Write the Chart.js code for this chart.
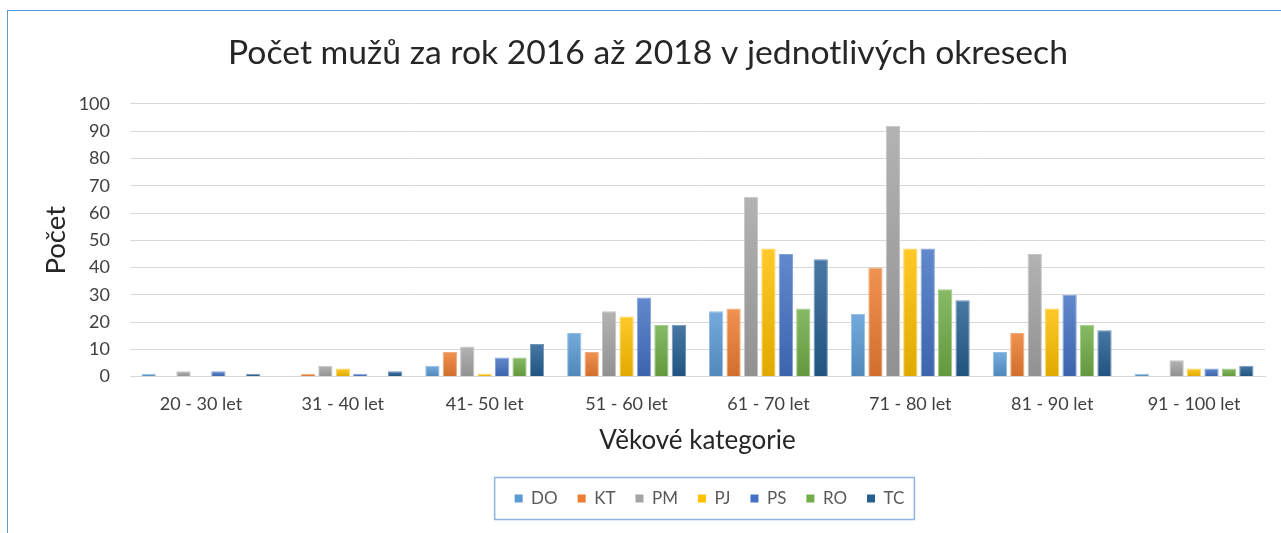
<!DOCTYPE html>
<html>
<head>
<meta charset="utf-8">
<script src="https://cdn.jsdelivr.net/npm/chart.js@4/dist/chart.umd.min.js"></script>
<style>
  html, body { margin: 0; padding: 0; background: #ffffff; overflow: hidden; }
  #wrap { position: relative; width: 1281px; height: 533px; }
  #frame { position: absolute; left: 7px; top: 10px; width: 1400px; height: 700px;
           border-left: 1.5px solid #5b9bd5; border-top: 1.5px solid #5b9bd5; pointer-events: none; }
  canvas { position: absolute; left: 0; top: 0; }
</style>
</head>
<body>
<div id="wrap">
  <canvas id="c" width="1281" height="533"></canvas>
  <div id="frame"></div>
</div>
<script>
// ---- data ----
const categories = ['20 - 30 let', '31 - 40 let', '41- 50 let', '51 - 60 let', '61 - 70 let', '71 - 80 let', '81 - 90 let', '91 - 100 let'];
const seriesNames = ['DO', 'KT', 'PM', 'PJ', 'PS', 'RO', 'TC'];
const DO = [1, 0, 4, 16, 24, 23, 9, 1];
const KT = [0, 1, 9, 9, 25, 40, 16, 0];
const PM = [2, 4, 11, 24, 66, 92, 45, 6];
const PJ = [0, 3, 1, 22, 47, 47, 25, 3];
const PS = [2, 1, 7, 29, 45, 47, 30, 3];
const RO = [0, 0, 7, 19, 25, 32, 19, 3];
const TC = [1, 2, 12, 19, 43, 28, 17, 4];
const yTicks = [0, 10, 20, 30, 40, 50, 60, 70, 80, 90, 100];
const titleText = 'Počet mužů za rok 2016 až 2018 v jednotlivých okresech';
const xTitle = 'Věkové kategorie';
const yTitle = 'Počet';

// ---- styles ----
const colors = ['#5b9bd5', '#ed7d31', '#a5a5a5', '#ffc000', '#4472c4', '#70ad47', '#255e91'];
const FONT = 'Lato, "Open Sans", sans-serif';

function shade(hex, amt) {
  const n = parseInt(hex.slice(1), 16);
  let r = (n >> 16) & 255, g = (n >> 8) & 255, b = n & 255;
  const t = amt > 0 ? 255 : 0, p = Math.abs(amt);
  r = Math.round(r + (t - r) * p); g = Math.round(g + (t - g) * p); b = Math.round(b + (t - b) * p);
  return 'rgb(' + r + ',' + g + ',' + b + ')';
}

function gradientFor(base) {
  return function (ctx) {
    if (ctx.type !== 'data') return base;
    const chart = ctx.chart;
    const y = chart.scales && chart.scales.y;
    if (!y || !chart.chartArea) return base;
    const top = y.getPixelForValue(ctx.raw);
    const bottom = y.getPixelForValue(0);
    if (!isFinite(top) || !isFinite(bottom) || bottom - top < 2) return base;
    const g = chart.ctx.createLinearGradient(0, top, 0, bottom);
    g.addColorStop(0, shade(base, 0.16));
    g.addColorStop(1, shade(base, -0.12));
    return g;
  };
}

const allValues = [DO, KT, PM, PJ, PS, RO, TC];
const datasets = seriesNames.map((name, i) => ({
  label: name,
  data: allValues[i],
  backgroundColor: gradientFor(colors[i]),
  borderColor: shade(colors[i], 0.35),
  borderWidth: 1,
  categoryPercentage: 0.86,
  barPercentage: 0.82
}));

const LEGEND_SHIFT = 12;
const legendShift = {
  id: 'legendShift',
  afterLayout(chart) {
    const lg = chart.legend;
    if (!lg) return;
    lg.left += LEGEND_SHIFT;
    lg.right += LEGEND_SHIFT;
  }
};

const legendFrame = {
  id: 'legendFrame',
  afterDraw(chart) {
    const lg = chart.legend;
    if (!lg || !lg.legendHitBoxes || !lg.legendHitBoxes.length) return;
    let minL = Infinity, maxR = -Infinity, cy = 0;
    lg.legendHitBoxes.forEach(h => {
      minL = Math.min(minL, h.left);
      maxR = Math.max(maxR, h.left + h.width);
      cy = h.top + h.height / 2;
    });
    const c = chart.ctx;
    c.save();
    c.strokeStyle = '#8db4e2';
    c.lineWidth = 1.5;
    c.strokeRect(minL - 20, cy - 21, (maxR + 10) - (minL - 20), 42);
    c.restore();
  }
};

new Chart(document.getElementById('c'), {
  type: 'bar',
  data: { labels: categories, datasets: datasets },
  plugins: [legendShift, legendFrame],
  options: {
    responsive: false,
    animation: false,
    layout: { padding: { left: 31, right: 16, top: 10, bottom: 16 } },
    plugins: {
      title: {
        display: true,
        text: titleText,
        color: '#262626',
        font: { family: FONT, size: 33.7, weight: 'normal' },
        padding: { top: 23, bottom: 30.5 }
      },
      legend: {
        position: 'bottom',
        fullSize: false,
        labels: {
          boxWidth: 8,
          boxHeight: 8,
          padding: 20,
          color: '#595959',
          font: { family: FONT, size: 17 },
          generateLabels(chart) {
            return chart.data.datasets.map((ds, i) => ({
              text: ds.label,
              fillStyle: colors[i],
              strokeStyle: colors[i],
              lineWidth: 0,
              hidden: false,
              datasetIndex: i,
              fontColor: '#595959'
            }));
          }
        }
      },
      tooltip: { enabled: false }
    },
    scales: {
      x: {
        afterFit(scale) { scale.height = 93.4; },
        grid: { display: false, drawTicks: false },
        border: { display: true, color: '#d9d9d9', width: 1 },
        ticks: { color: '#404040', font: { family: FONT, size: 18 }, padding: 17, maxRotation: 0, autoSkip: false },
        title: { display: true, text: xTitle, color: '#262626', font: { family: FONT, size: 26 }, padding: { top: 0, bottom: 13.8 } }
      },
      y: {
        min: 0, max: 100,
        afterFit(scale) { scale.width = 99; },
        afterBuildTicks(scale) { scale.ticks = yTicks.map(v => ({ value: v })); },
        grid: { color: '#d9d9d9', lineWidth: 1, drawTicks: false },
        border: { display: false },
        ticks: { color: '#404040', font: { family: FONT, size: 18 }, padding: 20 },
        title: { display: true, text: yTitle, color: '#262626', font: { family: FONT, size: 27.5 }, padding: { top: 9, bottom: 0 } }
      }
    }
  }
});
</script>
</body>
</html>
